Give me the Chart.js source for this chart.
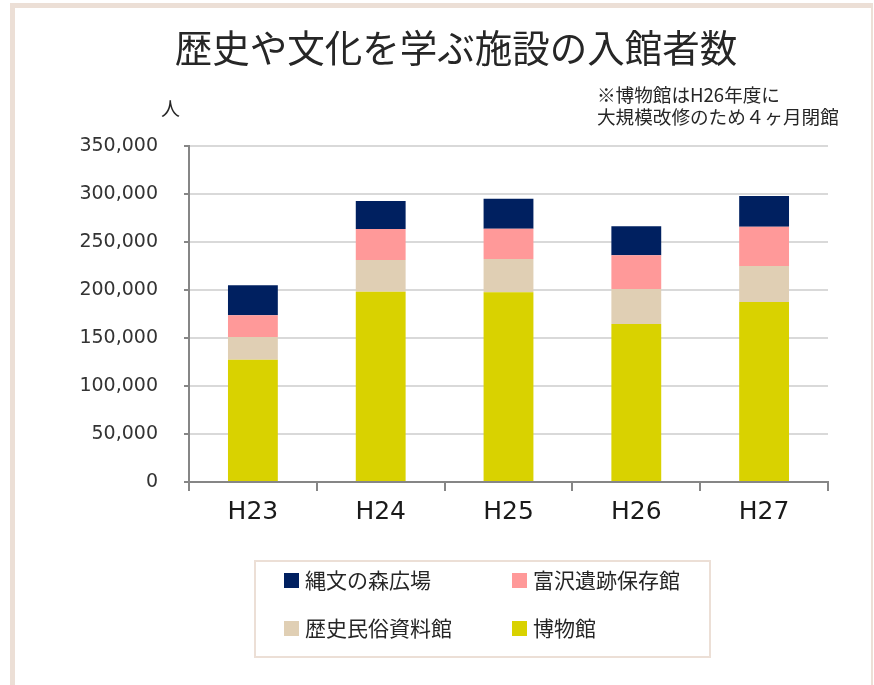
<!DOCTYPE html>
<html>
<head>
<meta charset="utf-8">
<script src="https://cdn.jsdelivr.net/npm/chart.js@4"></script>
<style>
  body { margin: 0; background: #fff; }
  #page { position: relative; width: 874px; height: 685px; overflow: hidden; }
  #marco {
    position: absolute; left: 10px; top: 3px; width: 856px; height: 680px;
    border-left: 5px solid #ecdfd6; border-top: 5px solid #ecdfd6;
    border-right: 2px solid #ecdfd6; border-bottom: 1px solid #f1e8e3;
  }
  #grafica { position: absolute; left: 0; top: 0; }
  .texto { position: absolute; font-family: "Noto Sans CJK JP", sans-serif; color: #262626; white-space: nowrap; }
  #titulo { left: 0; width: 912px; top: 26px; font-size: 37.5px; line-height: 40px; text-align: center; }
  #nota { left: 597px; top: 83px; font-size: 18.6px; line-height: 22px; }
  #unidad { left: 161px; top: 97px; font-size: 19px; line-height: 22px; }
  #leyenda {
    position: absolute; left: 254px; top: 560px; width: 453px; height: 94px;
    border: 2px solid #ecdfd6;
  }
  .item { position: absolute; font-family: "Noto Sans CJK JP", sans-serif; font-size: 21px; line-height: 24px; color: #262626; white-space: nowrap; }
  .item span { position: absolute; left: -21px; top: 6px; width: 15px; height: 15px; }
</style>
</head>
<body>
<div id="page">
  <div id="marco"></div>
  <canvas id="grafica" width="874" height="685"></canvas>
  <div class="texto" id="titulo">歴史や文化を学ぶ施設の入館者数</div>
  <div class="texto" id="nota">※博物館はH26年度に<br>大規模改修のため４ヶ月閉館</div>
  <div class="texto" id="unidad">人</div>
  <div id="leyenda"></div>
</div>
<script>
// años fiscales
const anios = ["H23", "H24", "H25", "H26", "H27"];

//入館者数 por施設 (de abajo hacia arriba en la pila)
const hakubutsukan = [127400, 198300, 197600, 164600, 187500];
const rekishiMinzoku = [23700, 33000, 34700, 36400, 37500];
const tomizawa = [22700, 32300, 31500, 35100, 41000];
const jomonNoMori = [31200, 29200, 31300, 30300, 31900];

const nombres = ["博物館", "歴史民俗資料館", "富沢遺跡保存館", "縄文の森広場"];
const colores = ["#d9d200", "#e0cfb4", "#ff9999", "#002060"];

const ticksY = [0, 50000, 100000, 150000, 200000, 250000, 300000, 350000];

const series = [hakubutsukan, rekishiMinzoku, tomizawa, jomonNoMori];

const data = {
  labels: anios,
  datasets: series.map((valores, i) => ({
    label: nombres[i],
    data: valores,
    backgroundColor: colores[i],
    borderWidth: 0,
    barPercentage: 0.39,
    categoryPercentage: 1,
  })),
};

const gris = "#868686";

const options = {
  responsive: false,
  animation: false,
  layout: { padding: { left: 69, right: 46, top: 146, bottom: 143 } },
  plugins: {
    legend: { display: false },
    title: { display: false },
    tooltip: { enabled: false },
  },
  scales: {
    x: {
      stacked: true,
      grid: {
        offset: true,
        drawOnChartArea: false,
        color: gris,
        lineWidth: 2,
        tickLength: 9,
      },
      border: { color: gris, width: 2 },
      ticks: {
        color: "#1a1a1a",
        padding: 6,
        font: { family: "DejaVu Sans", size: 25 },
      },
      afterFit: (eje) => { eje.height = 60; },
    },
    y: {
      stacked: true,
      min: 0,
      max: 350000,
      afterBuildTicks: (eje) => { eje.ticks = ticksY.map((v) => ({ value: v })); },
      grid: {
        color: "#d9d9d9",
        lineWidth: 2,
        tickLength: 5,
        tickColor: gris,
      },
      border: { color: gris, width: 2 },
      ticks: {
        color: "#333333",
        padding: 26,
        font: { family: "DejaVu Sans", size: 19 },
        callback: (v) => v.toLocaleString("en-US"),
      },
      afterFit: (eje) => { eje.width = 120; },
    },
  },
};

const grafica = new Chart("grafica", { type: "bar", data, options });

// leyenda en dos columnas, de arriba hacia abajo en la pila
const leyenda = document.getElementById("leyenda");
const posiciones = [
  { i: 3, x: 49, y: 5 },
  { i: 2, x: 277, y: 5 },
  { i: 1, x: 49, y: 53 },
  { i: 0, x: 277, y: 53 },
];
posiciones.forEach((p) => {
  const ds = grafica.data.datasets[p.i];
  const item = document.createElement("div");
  item.className = "item";
  item.style.left = p.x + "px";
  item.style.top = p.y + "px";
  item.innerHTML = `<span style="background:${ds.backgroundColor}"></span>${ds.label}`;
  leyenda.appendChild(item);
});
</script>
</body>
</html>
